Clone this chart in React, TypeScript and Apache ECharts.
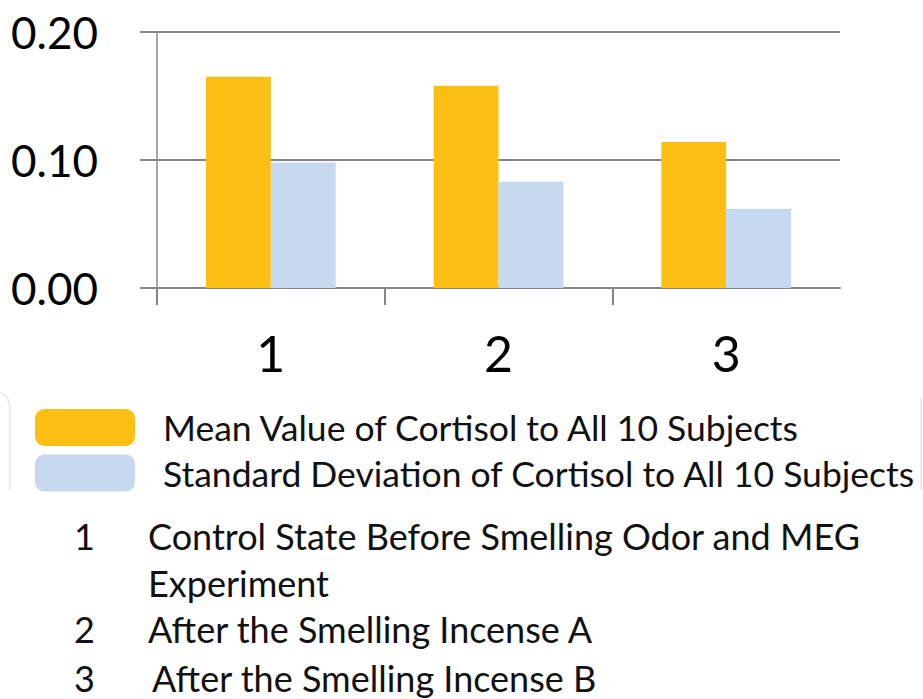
import React, { useEffect, useRef } from "react";
import * as echarts from "echarts";

const categories = ["1", "2", "3"];
const meanValues = [0.165, 0.158, 0.114];
const sdValues = [0.098, 0.083, 0.062];
const yTicks = [0, 0.1, 0.2];
const seriesNames = [
  "Mean Value of Cortisol to All 10 Subjects",
  "Standard Deviation of Cortisol to All 10 Subjects",
];
const notes = [
  { num: "1", lines: ["Control State Before Smelling Odor and MEG", "Experiment"] },
  { num: "2", lines: ["After the Smelling Incense A"] },
  { num: "3", lines: ["After the Smelling Incense B"] },
];

const FONT = "Lato";
const GRID_COLOR = "#868686";

export default function App() {
  const ref = useRef<HTMLDivElement>(null);
  useEffect(() => {
    if (!ref.current) return;
    const chart = echarts.init(ref.current, null, { renderer: "svg" });
    const noteGraphics: any[] = [];
    const noteBaselines = [[550, 597], [643], [692]];
    const noteTextX = [148, 148, 152];
    const NOTE_SIZE = 36;
    notes.forEach((n, i) => {
      noteGraphics.push({
        type: "text",
        left: 74,
        top: noteBaselines[i][0] - 32,
        style: { text: n.num, font: `${NOTE_SIZE}px ${FONT}`, fill: "#111" },
      });
      n.lines.forEach((line, j) => {
        noteGraphics.push({
          type: "text",
          left: noteTextX[i],
          top: noteBaselines[i][j] - 32,
          style: { text: line, font: `${NOTE_SIZE}px ${FONT}`, fill: "#111" },
        });
      });
    });
    chart.setOption({
      animation: false,
      grid: { left: 157, right: 83, top: 32, bottom: 411, containLabel: false },
      legend: {
        orient: "vertical",
        left: 35,
        top: 409,
        padding: 0,
        itemWidth: 100,
        itemHeight: 37,
        itemGap: 8.5,
        icon: "roundRect",
        selectedMode: false,
        textStyle: {
          fontFamily: FONT,
          fontSize: 35.5,
          lineHeight: 37,
          color: "#111",
          padding: [0, 0, 0, 23],
        },
        data: seriesNames,
      },
      xAxis: [
        {
          type: "category",
          data: categories,
          axisLine: { show: true, lineStyle: { color: GRID_COLOR, width: 2 } },
          axisTick: { show: false },
          axisLabel: {
            fontFamily: FONT,
            fontSize: 50,
            color: "#000",
            margin: 40,
          },
        },
        {
          type: "category",
          data: ["", "", "", ""],
          boundaryGap: false,
          position: "bottom",
          axisLine: { show: false },
          axisLabel: { show: false },
          axisTick: {
            show: true,
            length: 17,
            interval: (index: number) => index < 3,
            lineStyle: { color: GRID_COLOR, width: 2 },
          },
          splitLine: { show: false },
        },
      ],
      yAxis: {
        type: "value",
        min: yTicks[0],
        max: yTicks[yTicks.length - 1],
        interval: 0.1,
        axisLine: { show: true, lineStyle: { color: GRID_COLOR, width: 1.5 } },
        axisTick: { show: true, length: 17, lineStyle: { color: GRID_COLOR, width: 2 } },
        splitLine: { show: true, lineStyle: { color: GRID_COLOR, width: 2 } },
        axisLabel: {
          fontFamily: FONT,
          fontSize: 44,
          color: "#000",
          margin: 59,
          formatter: (v: number) => v.toFixed(2),
        },
      },
      series: [
        {
          name: seriesNames[0],
          type: "bar",
          data: meanValues,
          barGap: "0%",
          barCategoryGap: "43%",
          itemStyle: { color: "#FDBF14" },
        },
        {
          name: seriesNames[1],
          type: "bar",
          data: sdValues,
          itemStyle: { color: "#C6D9EF" },
        },
      ],
      graphic: [
        {
          type: "polyline",
          shape: { points: [[0, 393], [6, 396], [9, 402], [10, 410], [10, 490]] },
          style: { stroke: "#ececec", lineWidth: 2, fill: "none" },
          silent: true,
        },
        {
          type: "line",
          shape: { x1: 921, y1: 397, x2: 921, y2: 490 },
          style: { stroke: "#ececec", lineWidth: 2 },
          silent: true,
        },
        ...noteGraphics,
      ],
    });
    return () => chart.dispose();
  }, []);
  return <div ref={ref} style={{ width: 923, height: 699, position: "absolute", left: 0, top: 0 }} />;
}
